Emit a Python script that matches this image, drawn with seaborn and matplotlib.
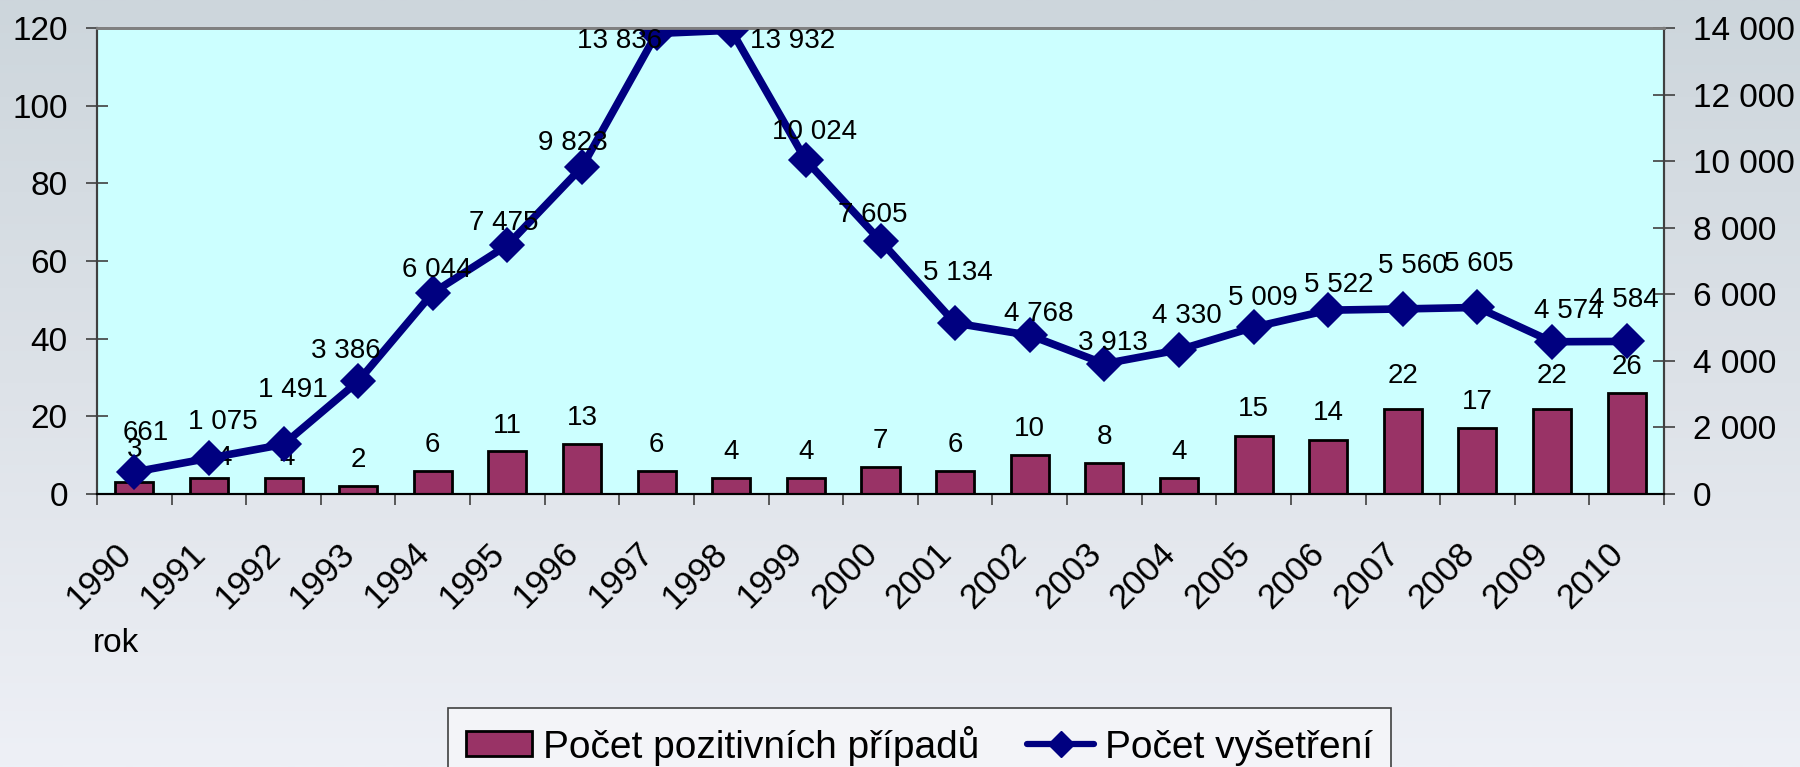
import numpy as np
import pandas as pd
import matplotlib
matplotlib.use("Agg")
import matplotlib.pyplot as plt
import matplotlib.transforms as mtransforms
from matplotlib.colors import LinearSegmentedColormap
from matplotlib.ticker import FuncFormatter, MultipleLocator
from matplotlib.patches import Patch
from matplotlib.lines import Line2D
import seaborn as sns

# ---------------- data ----------------
years = ["1990", "1991", "1992", "1993", "1994", "1995", "1996", "1997", "1998", "1999",
         "2000", "2001", "2002", "2003", "2004", "2005", "2006", "2007", "2008", "2009", "2010"]
positives = [3, 4, 4, 2, 6, 11, 13, 6, 4, 4, 7, 6, 10, 8, 4, 15, 14, 22, 17, 22, 26]
exams = [661, 1075, 1491, 3386, 6044, 7475, 9823, 13836, 13932, 10024, 7605,
         5134, 4768, 3913, 4330, 5009, 5522, 5560, 5605, 4574, 4584]
series_names = ["Počet pozitivních případů", "Počet vyšetření"]
x_title = "rok"

# label offsets (pixels: dx right, dy up of baseline)
line_label_offsets = [(11, 32), (14, 29), (9, 47), (-12, 23), (4, 16), (-4, 15), (-9, 17),
                      (-37, -15), (61, -18), (9, 21), (-8, 19), (3, 43), (9, 14), (9, 14),
                      (8, 27), (9, 22), (11, 18), (10, 36), (1, 36), (17, 24), (-3, 34)]
bar_label_offsets = [(0, 25), (15, 13), (4, 13), (0, 19), (0, 19), (0, 18), (0, 19),
                     (0, 19), (0, 19), (0, 19), (0, 19), (0, 19), (0, 19), (0, 19),
                     (0, 19), (0, 20), (0, 20), (0, 26), (0, 19), (0, 26), (0, 19)]

BAR_COLOR = "#993366"
LINE_COLOR = "#000080"
PLOT_BG = "#ccffff"
AX_GRAY = "#404040"

sns.set_theme(style="white")
plt.rcParams["font.family"] = ["Liberation Sans", "DejaVu Sans"]
plt.rcParams["text.color"] = "black"
plt.rcParams["axes.labelcolor"] = "black"
plt.rcParams["xtick.color"] = "black"
plt.rcParams["ytick.color"] = "black"

W, H = 1800, 767
DPI = 100
fig = plt.figure(figsize=(W / DPI, H / DPI), dpi=DPI)

# background gradient
bg = fig.add_axes([0, 0, 1, 1], zorder=-10)
grad = np.linspace(0, 1, 256)[:, None]
cmap = LinearSegmentedColormap.from_list("bg", ["#cdd6dc", "#dde2e8", "#eef0f6"])
bg.imshow(grad, aspect="auto", cmap=cmap, extent=[0, 1, 0, 1], origin="upper")
bg.set_axis_off()

L, R, T, B = 97, 1664, 28, 494
ax = fig.add_axes([L / W, 1 - B / H, (R - L) / W, (B - T) / H])
ax.set_facecolor(PLOT_BG)

df = pd.DataFrame({"rok": years, "pos": positives, "exam": exams})

sns.barplot(data=df, x="rok", y="pos", ax=ax, color=BAR_COLOR, saturation=1,
            edgecolor="black", linewidth=2, width=0.51, errorbar=None, zorder=2)
ax.set_ylim(0, 120)
ax.yaxis.set_major_locator(MultipleLocator(20))

ax2 = ax.twinx()
sns.pointplot(data=df, x="rok", y="exam", ax=ax2, color=LINE_COLOR, markers="D",
              markersize=14, linewidth=5.5, errorbar=None)
ax2.set_ylim(0, 14000)
ax2.yaxis.set_major_locator(MultipleLocator(2000))
ax2.yaxis.set_major_formatter(FuncFormatter(lambda v, p: f"{int(v):,}".replace(",", " ")))
ax.set_xlim(-0.5, len(years) - 0.5)

# x ticks: labels at centers, tick marks at boundaries
ax.set_xticks(range(len(years)))
ax.set_xticklabels(years)
ax.set_xticks(np.arange(-0.5, len(years), 1.0), minor=True)
ax.tick_params(axis="x", which="major", length=0, labelsize=25, pad=39, labelcolor="black")
ax.tick_params(axis="x", which="minor", length=8, width=1.2, direction="out",
               color=AX_GRAY, bottom=True)
offset = mtransforms.ScaledTranslation(-8.5 / DPI, 0, fig.dpi_scale_trans)
for lab in ax.get_xticklabels():
    lab.set_rotation(45)
    lab.set_ha("right")
    lab.set_va("center")
    lab.set_rotation_mode("anchor")
    lab.set_transform(lab.get_transform() + offset)

ax.tick_params(axis="y", direction="inout", length=16, width=1.2, color=AX_GRAY,
               labelsize=24, pad=13, left=True, labelcolor="black")
ax2.tick_params(axis="y", direction="inout", length=16, width=1.2, color=AX_GRAY,
                labelsize=24, pad=13, right=True, labelcolor="black")
ax.set_xlabel("")
ax.set_ylabel("")
ax2.set_xlabel("")
ax2.set_ylabel("")
ax.grid(False)
ax2.grid(False)

for a in (ax, ax2):
    a.spines["top"].set_color("#808080")
    a.spines["top"].set_linewidth(2)
    a.spines["left"].set_color(AX_GRAY)
    a.spines["left"].set_linewidth(1.5)
    a.spines["right"].set_color(AX_GRAY)
    a.spines["right"].set_linewidth(1.5)
    a.spines["bottom"].set_color("black")
    a.spines["bottom"].set_linewidth(1.5)

# bar labels
px = 72 / DPI
for bar, val, (dx, dy) in zip(ax.patches, positives, bar_label_offsets):
    ax.annotate(str(val), xy=(bar.get_x() + bar.get_width() / 2, bar.get_height()),
                xytext=(dx * px, dy * px), textcoords="offset points",
                ha="center", va="baseline", fontsize=20, color="black", zorder=3)

# line labels
for i, (val, (dx, dy)) in enumerate(zip(exams, line_label_offsets)):
    ax2.annotate(f"{val:,}".replace(",", " "), xy=(i, val),
                 xytext=(dx * px, dy * px), textcoords="offset points",
                 ha="center", va="baseline", fontsize=20, color="black", zorder=5)

# axis title
fig.text(93 / W, 1 - 652 / H, x_title, fontsize=24, ha="left", va="baseline", color="black")

# legend
handles = [Patch(facecolor=BAR_COLOR, edgecolor="black", linewidth=2),
           Line2D([], [], color=LINE_COLOR, marker="D", markersize=13, linewidth=4.5)]
leg = fig.legend(handles, series_names, loc="upper left",
                 bbox_to_anchor=(448 / W, 1 - 708 / H), bbox_transform=fig.transFigure,
                 ncol=2, fontsize=28, frameon=True, fancybox=False, borderaxespad=0,
                 handlelength=1.72, handleheight=0.6, handletextpad=0.28,
                 columnspacing=1.23, borderpad=0.45)
for t in leg.get_texts():
    t.set_color("black")
leg.get_frame().set_edgecolor(AX_GRAY)
leg.get_frame().set_linewidth(1.2)
leg.get_frame().set_facecolor("#f3f4f8")
leg.get_frame().set_alpha(1)

fig.savefig("out.png", dpi=DPI)
